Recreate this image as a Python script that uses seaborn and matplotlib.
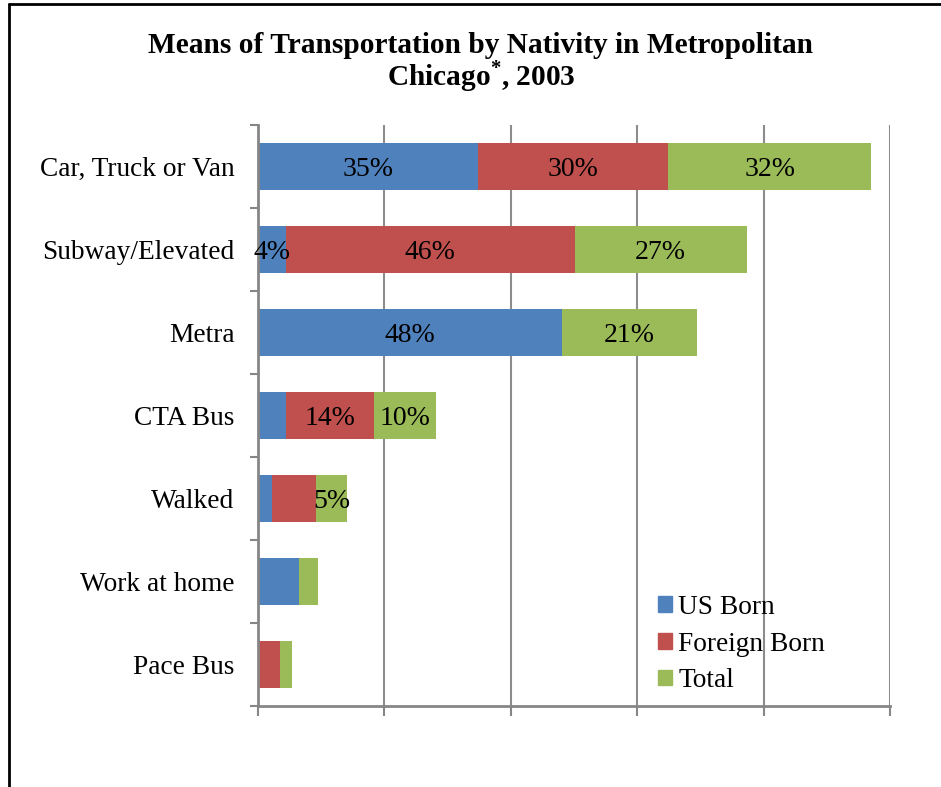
# Gráfico de barras apiladas: medios de transporte por natividad (Chicago, 2003)
import pandas as pd
import matplotlib.pyplot as plt
import seaborn as sns
from matplotlib.patches import Patch
from matplotlib.lines import Line2D

categorias = ["Car, Truck or Van", "Subway/Elevated", "Metra", "CTA Bus",
              "Walked", "Work at home", "Pace Bus"]
us_born = [34.8, 4.4, 48.1, 4.4, 2.2, 6.5, 0.0]
foreign_born = [30.1, 45.7, 0.0, 13.9, 7.0, 0.0, 3.5]
total = [32.1, 27.2, 21.4, 9.8, 4.9, 3.0, 1.9]

# Etiquetas visibles en cada segmento ("" = sin etiqueta)
etiq_us = ["35%", "4%", "48%", "", "", "", ""]
etiq_foreign = ["30%", "46%", "", "14%", "", "", ""]
etiq_total = ["32%", "27%", "21%", "10%", "5%", "", ""]

series = ["US Born", "Foreign Born", "Total"]
colores = ["#4F81BD", "#C0504D", "#9BBB59"]

df = pd.DataFrame({"modo": categorias, "us": us_born,
                   "foreign": foreign_born, "total": total})
df["c1"] = df["us"]
df["c2"] = df["c1"] + df["foreign"]
df["c3"] = df["c2"] + df["total"]

sns.set_style("white")
plt.rcParams["font.family"] = ["Liberation Serif", "DejaVu Serif"]
plt.rcParams["text.color"] = "black"
plt.rcParams["ytick.labelcolor"] = "black"
plt.rcParams["mathtext.fontset"] = "custom"
plt.rcParams["mathtext.rm"] = "Liberation Serif"
plt.rcParams["mathtext.bf"] = "Liberation Serif:bold"

fig = plt.figure(figsize=(9.41, 7.87), dpi=100)
ax = fig.add_axes([0.2742, 0.1029, 0.6716, 0.7383])

# Apilado: se dibuja el acumulado de mayor a menor
for col, color in zip(["c3", "c2", "c1"], colores[::-1]):
    sns.barplot(data=df, y="modo", x=col, color=color, width=0.57,
                saturation=1, ax=ax, linewidth=0, orient="h")

# Etiquetas centradas en cada segmento
for i in range(len(categorias)):
    inicio = 0
    for val, etq in zip([us_born[i], foreign_born[i], total[i]],
                        [etiq_us[i], etiq_foreign[i], etiq_total[i]]):
        if etq:
            ax.text(inicio + val / 2, i, etq, ha="center",
                    va="center_baseline", fontsize=20, color="black")
        inicio += val

ax.set_xlim(0, 100)
ax.set_ylim(len(categorias) - 0.5, -0.5)
ax.set_xticks([0, 20, 40, 60, 80, 100])
ax.set_xticklabels([])
ax.set_xlabel("")
ax.set_ylabel("")
ax.set_yticks(range(len(categorias)))
ax.set_yticklabels(categorias, fontsize=19.7)
ax.set_yticks([i - 0.5 for i in range(len(categorias) + 1)], minor=True)
ax.tick_params(axis="y", which="major", length=0, pad=17)
ax.tick_params(axis="y", which="minor", length=6, width=1.5,
               color="#868686", direction="out", left=True)
ax.tick_params(axis="x", which="major", length=7, width=1.5,
               color="#868686", direction="out", bottom=True)
ax.grid(axis="x", color="#8c8c8c", linewidth=1.5)
ax.set_axisbelow(True)
for lado in ["top", "right"]:
    ax.spines[lado].set_visible(False)
for lado in ["left", "bottom"]:
    ax.spines[lado].set_color("#868686")
    ax.spines[lado].set_linewidth(2)

handles = [Patch(color=c, label=s) for c, s in zip(colores, series)]
ax.legend(handles=handles, loc="upper left", bbox_to_anchor=(0.611, 0.215),
          frameon=False, fontsize=19.7, handlelength=0.5, handleheight=0.5,
          handletextpad=0.25, labelspacing=0.43, borderpad=0)

# Título en dos líneas
fig.text(0.511, 0.9327, "Means of Transportation by Nativity in Metropolitan",
         ha="center", va="baseline", fontsize=21.2, fontweight="bold")
fig.text(0.511, 0.892, "Chicago$^{\\mathbf{*}}$, 2003",
         ha="center", va="baseline", fontsize=21.2, fontweight="bold")

# Marco exterior (borde superior e izquierdo)
fig.add_artist(Line2D([0.0095, 1.0], [0.995, 0.995], color="black", lw=2))
fig.add_artist(Line2D([0.0095, 0.0095], [0.0, 0.995], color="black", lw=2))

plt.savefig("out.png", dpi=100)
plt.close()
